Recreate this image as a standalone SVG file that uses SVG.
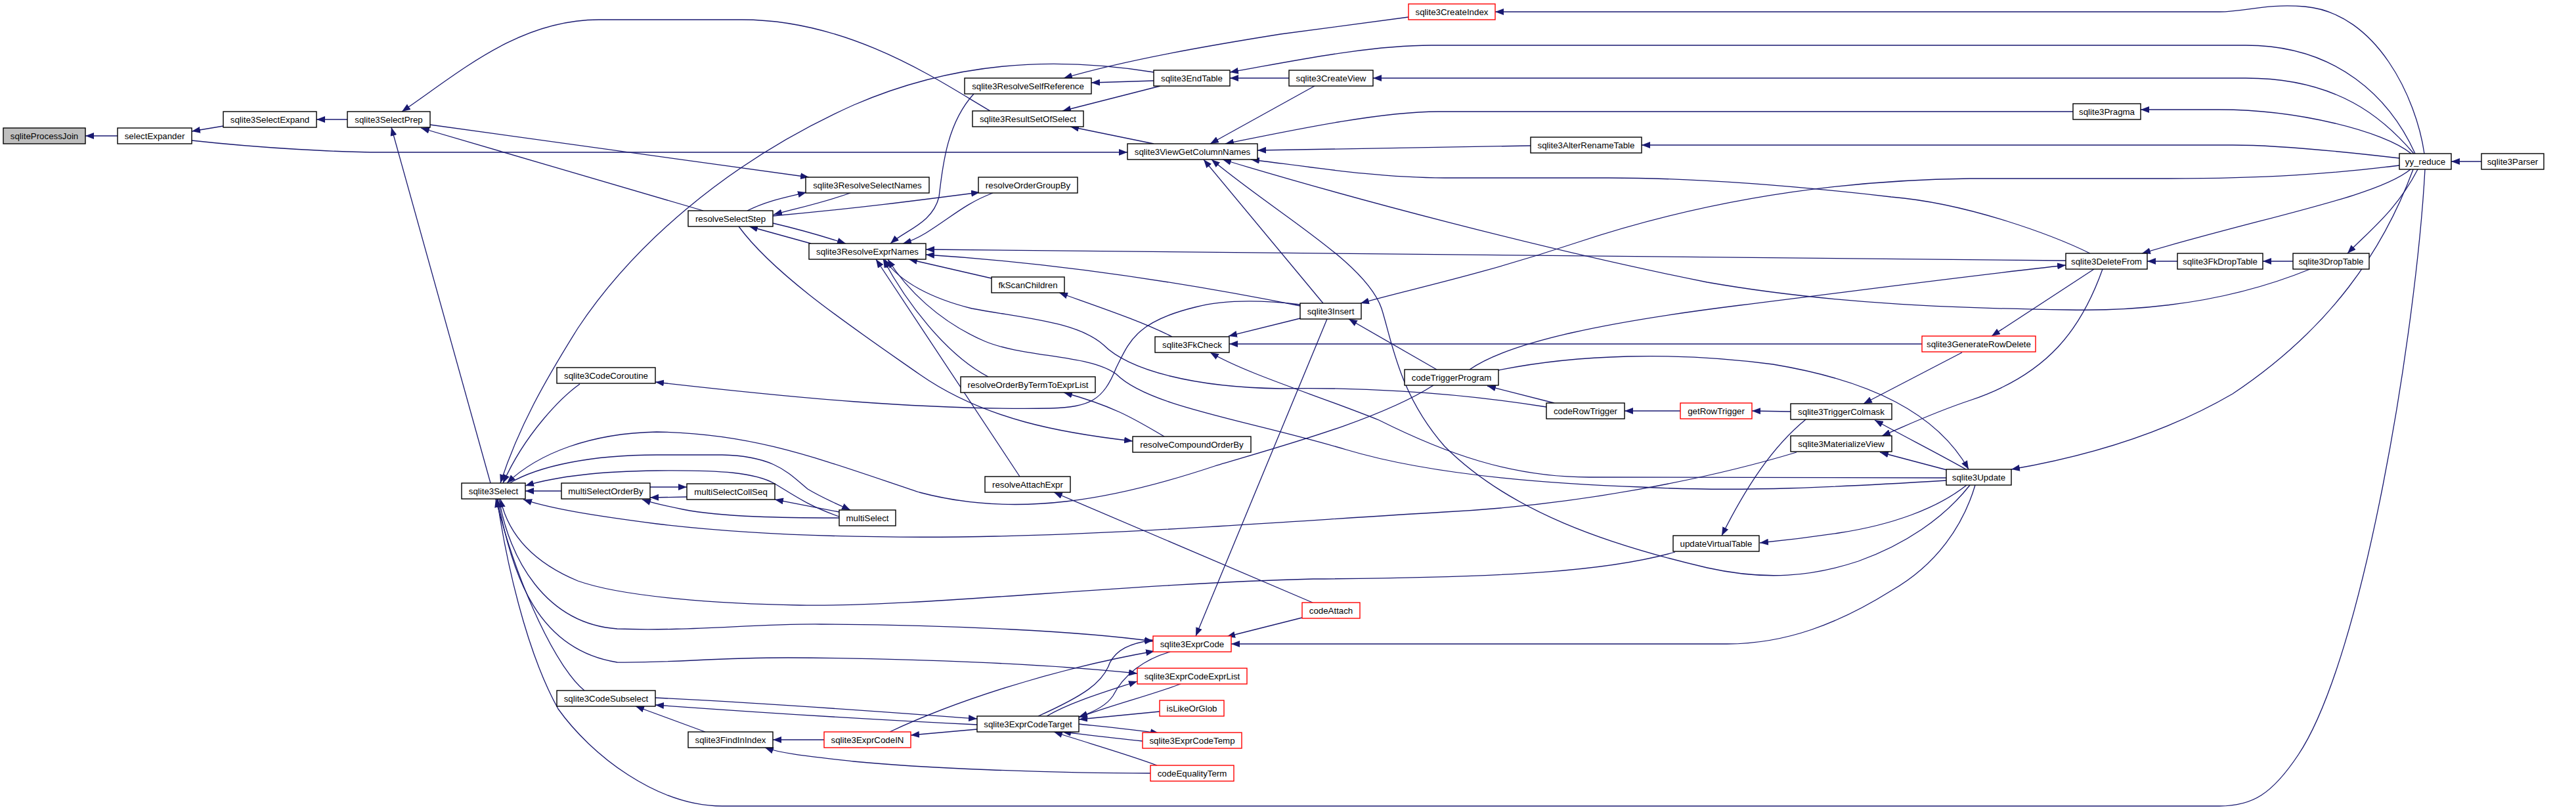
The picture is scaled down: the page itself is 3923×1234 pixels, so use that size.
<svg xmlns="http://www.w3.org/2000/svg" width="3923" height="1234" viewBox="0 0 3923 1234">
<style>
.n rect{fill:#fff;stroke:#000;stroke-width:1.4}
.n.r rect{stroke:#ff0000}
.n.g rect{fill:#bfbfbf}
.n text{font-family:"Liberation Sans",Arial,Helvetica,sans-serif;font-size:13.3px;text-anchor:middle;fill:#000}
#edges path{fill:none;stroke:#191970;stroke-width:1.3;marker-end:url(#a)}
</style>
<defs>
<marker id="a" markerUnits="userSpaceOnUse" markerWidth="14" markerHeight="10" refX="13" refY="5" orient="auto"><path d="M0,0 L13,5 L0,10 z" fill="#191970"/></marker>
</defs>
<rect width="3923" height="1234" fill="#fff"/>
<g id="edges">
<path d="M179,207 L130,207"/>
<path d="M340,192 L292,200"/>
<path d="M529,182 L482,182"/>
<path d="M292,214 C400,226 520,232 580,232 L1717,232"/>
<path d="M1508,169 C1440,130 1300,30 1130,30 L912,30 C790,30 700,110 612,170"/>
<path d="M655,190 L1232,270"/>
<path d="M1071,321 L641,195"/>
<path d="M747,736 L596,194"/>
<path d="M1757,110 C1600,85 1450,95 1300,160 C1100,250 960,380 880,500 C830,580 790,650 762,736"/>
<path d="M883,585 C855,605 800,660 766,736"/>
<path d="M1980,464 C1930,458 1870,455 1820,468 C1730,490 1720,520 1700,560 C1680,610 1660,620 1600,622 C1400,625 1200,605 998,582"/>
<path d="M2145,26 L1950,52 C1850,68 1720,90 1620,119"/>
<path d="M3692,234 C3680,150 3620,20 3510,10 C3450,5 3420,18 3380,18 L2277,18"/>
<path d="M3678,234 C3640,150 3560,69 3420,69 L2180,69 C2080,69 1960,95 1873,110"/>
<path d="M1963,119 L1873,119"/>
<path d="M3676,234 C3630,180 3560,119 3420,119 L2091,119"/>
<path d="M2002,131 L1843,219"/>
<path d="M3157,170 L2190,170 C2100,170 1960,200 1866,219"/>
<path d="M3672,234 C3630,200 3500,167 3380,167 L3260,167"/>
<path d="M1757,123 L1662,126"/>
<path d="M1767,131 L1618,169"/>
<path d="M1757,219 L1630,193"/>
<path d="M2331,222 L1915,229"/>
<path d="M3654,241 C3560,230 3470,221 3400,221 L2500,221"/>
<path d="M3183,386 C3130,360 3000,310 2880,300 C2750,285 2600,271 2450,271 L2200,271 C2100,271 2000,255 1905,243"/>
<path d="M3518,410 C3420,450 3300,475 3150,472 C3000,470 2800,465 2600,430 C2350,380 2050,300 1862,243"/>
<path d="M3000,739 C2960,790 2900,830 2830,855 C2760,878 2690,885 2600,865 C2450,830 2300,780 2200,680 C2130,600 2120,520 2104,470 C2080,400 1950,330 1845,243"/>
<path d="M2015,462 L1833,243"/>
<path d="M1980,466 C1800,430 1600,400 1410,388"/>
<path d="M3654,252 C3550,265 3450,272 3300,272 L3000,272 C2750,275 2550,320 2400,370 C2250,420 2150,440 2072,462"/>
<path d="M3779,246 L3733,246"/>
<path d="M3671,258 C3620,300 3450,330 3262,386"/>
<path d="M3682,258 C3650,320 3610,350 3575,386"/>
<path d="M3316,398 L3270,398"/>
<path d="M3492,398 L3446,398"/>
<path d="M3675,258 C3630,380 3550,500 3400,600 C3280,670 3150,700 3063,715"/>
<path d="M3693,258 C3680,500 3600,1000 3500,1150 C3460,1210 3430,1228 3380,1228 L1100,1228 C1000,1228 900,1150 850,1080 C800,990 770,850 757,760"/>
<path d="M3146,397 C3000,393 2400,385 1410,380"/>
<path d="M2238,563 C2300,520 2450,490 2650,465 C2850,440 3000,420 3146,404"/>
<path d="M3189,410 L3033,512"/>
<path d="M3202,410 C3170,500 3120,570 3000,610 C2940,630 2900,650 2866,664"/>
<path d="M2927,524 L1872,524"/>
<path d="M2988,537 L2838,615"/>
<path d="M1980,485 L1871,512"/>
<path d="M2964,728 L2420,727 C2300,727 2200,690 2100,640 C2000,600 1900,570 1843,537"/>
<path d="M1785,513 C1740,490 1680,470 1613,446"/>
<path d="M1510,424 L1384,395"/>
<path d="M1125,345 C1180,420 1300,500 1400,570 C1500,640 1620,660 1725,672"/>
<path d="M1773,665 C1730,640 1700,620 1620,598"/>
<path d="M1505,574 C1440,540 1380,460 1345,395"/>
<path d="M1553,726 L1334,395"/>
<path d="M1999,918 L1605,750"/>
<path d="M1983,941 L1868,970"/>
<path d="M2355,620 C2200,595 2050,590 1950,592 C1820,590 1720,565 1680,525 C1640,490 1560,485 1480,470 C1420,455 1370,430 1347,395"/>
<path d="M2964,732 C2800,742 2650,750 2500,742 C2300,735 2150,715 2050,685 C1900,640 1750,620 1700,570 C1660,540 1560,545 1500,520 C1430,490 1380,440 1352,395"/>
<path d="M1483,143 C1440,190 1435,260 1430,300 C1420,340 1380,350 1356,371"/>
<path d="M1512,294 C1470,310 1450,330 1410,355 C1395,364 1385,368 1375,371"/>
<path d="M1177,329 C1300,318 1400,305 1492,293"/>
<path d="M1177,340 C1220,350 1260,362 1288,371"/>
<path d="M1235,371 L1141,345"/>
<path d="M1138,321 C1170,305 1200,300 1228,293"/>
<path d="M1295,294 C1250,310 1210,318 1178,327"/>
<path d="M776,736 C820,710 900,693 1000,693 L1100,693 C1180,695 1200,720 1230,745 C1255,760 1280,770 1295,777"/>
<path d="M1278,787 C1230,770 1210,755 1180,737 C1150,720 1100,716 1000,717 C900,718 840,728 800,740"/>
<path d="M2183,587 C2100,640 1950,680 1850,710 C1700,760 1550,790 1400,750 C1250,700 1150,660 1000,658 C900,660 820,690 772,736"/>
<path d="M855,748 L800,748"/>
<path d="M990,742 L1046,742"/>
<path d="M1046,757 L990,758"/>
<path d="M1278,780 L1180,761"/>
<path d="M1278,789 C1200,789 1100,788 1040,776 C1010,770 990,765 978,761"/>
<path d="M2736,689 C2600,730 2400,770 2200,780 C1950,795 1700,815 1460,818 C1250,820 1100,810 1000,798 C900,785 840,775 797,761"/>
<path d="M2551,841 C2450,870 2300,880 2000,882 C1700,890 1400,925 1218,922 C1100,920 950,910 880,885 C820,860 775,820 762,760"/>
<path d="M760,760 C775,850 830,950 940,958 C1050,962 1150,950 1250,951 C1450,952 1650,962 1756,977"/>
<path d="M758,760 C780,880 820,990 940,1009 C1030,1010 1080,1002 1200,1002 C1400,1003 1600,1012 1732,1026"/>
<path d="M890,1052 C850,1020 790,900 755,760"/>
<path d="M1488,1104 C1300,1095 1150,1085 998,1074"/>
<path d="M998,1063 C1200,1073 1350,1085 1488,1095"/>
<path d="M1074,1115 L968,1076"/>
<path d="M1255,1127 L1177,1127"/>
<path d="M1752,1178 C1600,1178 1400,1170 1300,1160 C1230,1152 1190,1148 1165,1139"/>
<path d="M1488,1111 L1387,1120"/>
<path d="M1355,1115 C1450,1070 1600,1020 1758,992"/>
<path d="M1581,1091 C1650,1060 1680,1040 1690,1010 C1700,990 1720,980 1756,975"/>
<path d="M1782,993 C1740,1005 1710,1030 1695,1060 C1685,1075 1665,1085 1643,1092"/>
<path d="M1594,1091 C1630,1070 1680,1055 1732,1038"/>
<path d="M1798,1042 C1750,1060 1690,1075 1643,1093"/>
<path d="M1766,1084 L1643,1096"/>
<path d="M1643,1103 C1690,1108 1730,1112 1765,1117"/>
<path d="M1740,1129 C1700,1125 1660,1120 1618,1115"/>
<path d="M1762,1166 C1720,1150 1650,1130 1605,1115"/>
<path d="M2021,486 L1821,969"/>
<path d="M3008,739 C2990,800 2950,860 2880,900 C2800,950 2720,981 2630,981 L1875,981"/>
<path d="M2995,739 C2950,775 2880,800 2800,812 C2760,818 2720,823 2680,827"/>
<path d="M2750,639 C2700,680 2660,740 2622,816"/>
<path d="M2994,715 C2950,690 2900,665 2855,640"/>
<path d="M2282,564 C2400,540 2550,535 2700,555 C2850,580 2950,630 2998,715"/>
<path d="M2965,716 L2863,689"/>
<path d="M2367,614 L2265,588"/>
<path d="M2559,626 L2474,626"/>
<path d="M2727,627 L2668,626"/>
<path d="M2188,563 L2054,486"/>
</g>
<g id="n_sqliteProcessJoin" class="n g"><rect x="5" y="195" width="125" height="24"/><text x="67.5" y="212">sqliteProcessJoin</text></g>
<g id="n_selectExpander" class="n"><rect x="179" y="195" width="113" height="24"/><text x="235.5" y="212">selectExpander</text></g>
<g id="n_sqlite3SelectExpand" class="n"><rect x="340" y="170" width="142" height="24"/><text x="411" y="187">sqlite3SelectExpand</text></g>
<g id="n_sqlite3SelectPrep" class="n"><rect x="529" y="170" width="126" height="24"/><text x="592" y="187">sqlite3SelectPrep</text></g>
<g id="n_sqlite3Select" class="n"><rect x="703" y="736" width="97" height="24"/><text x="751.5" y="753">sqlite3Select</text></g>
<g id="n_sqlite3CodeCoroutine" class="n"><rect x="848" y="560" width="150" height="24"/><text x="923" y="577">sqlite3CodeCoroutine</text></g>
<g id="n_multiSelectOrderBy" class="n"><rect x="855" y="736" width="135" height="24"/><text x="922.5" y="753">multiSelectOrderBy</text></g>
<g id="n_sqlite3CodeSubselect" class="n"><rect x="848" y="1052" width="150" height="24"/><text x="923" y="1069">sqlite3CodeSubselect</text></g>
<g id="n_sqlite3EndTable" class="n"><rect x="1757" y="107" width="116" height="24"/><text x="1815" y="124">sqlite3EndTable</text></g>
<g id="n_sqlite3ResolveSelfReference" class="n"><rect x="1469" y="119" width="193" height="24"/><text x="1565.5" y="136">sqlite3ResolveSelfReference</text></g>
<g id="n_sqlite3ResultSetOfSelect" class="n"><rect x="1481" y="169" width="169" height="24"/><text x="1565.5" y="186">sqlite3ResultSetOfSelect</text></g>
<g id="n_sqlite3ViewGetColumnNames" class="n"><rect x="1717" y="219" width="198" height="24"/><text x="1816" y="236">sqlite3ViewGetColumnNames</text></g>
<g id="n_sqlite3ResolveSelectNames" class="n"><rect x="1227" y="270" width="188" height="24"/><text x="1321" y="287">sqlite3ResolveSelectNames</text></g>
<g id="n_resolveOrderGroupBy" class="n"><rect x="1490" y="270" width="151" height="24"/><text x="1565.5" y="287">resolveOrderGroupBy</text></g>
<g id="n_resolveSelectStep" class="n"><rect x="1048" y="321" width="129" height="24"/><text x="1112.5" y="338">resolveSelectStep</text></g>
<g id="n_sqlite3ResolveExprNames" class="n"><rect x="1232" y="371" width="178" height="24"/><text x="1321" y="388">sqlite3ResolveExprNames</text></g>
<g id="n_fkScanChildren" class="n"><rect x="1510" y="422" width="111" height="24"/><text x="1565.5" y="439">fkScanChildren</text></g>
<g id="n_sqlite3FkCheck" class="n"><rect x="1759" y="513" width="113" height="24"/><text x="1815.5" y="530">sqlite3FkCheck</text></g>
<g id="n_resolveOrderByTermToExprList" class="n"><rect x="1463" y="574" width="205" height="24"/><text x="1565.5" y="591">resolveOrderByTermToExprList</text></g>
<g id="n_resolveCompoundOrderBy" class="n"><rect x="1725" y="665" width="180" height="24"/><text x="1815" y="682">resolveCompoundOrderBy</text></g>
<g id="n_resolveAttachExpr" class="n"><rect x="1500" y="726" width="130" height="24"/><text x="1565" y="743">resolveAttachExpr</text></g>
<g id="n_multiSelectCollSeq" class="n"><rect x="1046" y="737" width="134" height="24"/><text x="1113" y="754">multiSelectCollSeq</text></g>
<g id="n_multiSelect" class="n"><rect x="1278" y="777" width="86" height="24"/><text x="1321" y="794">multiSelect</text></g>
<g id="n_sqlite3ExprCode" class="n r"><rect x="1756" y="969" width="119" height="24"/><text x="1815.5" y="986">sqlite3ExprCode</text></g>
<g id="n_sqlite3ExprCodeExprList" class="n r"><rect x="1732" y="1018" width="167" height="24"/><text x="1815.5" y="1035">sqlite3ExprCodeExprList</text></g>
<g id="n_isLikeOrGlob" class="n r"><rect x="1766" y="1067" width="98" height="24"/><text x="1815" y="1084">isLikeOrGlob</text></g>
<g id="n_sqlite3ExprCodeTarget" class="n"><rect x="1488" y="1091" width="155" height="24"/><text x="1565.5" y="1108">sqlite3ExprCodeTarget</text></g>
<g id="n_sqlite3ExprCodeTemp" class="n r"><rect x="1740" y="1116" width="151" height="24"/><text x="1815.5" y="1133">sqlite3ExprCodeTemp</text></g>
<g id="n_codeEqualityTerm" class="n r"><rect x="1752" y="1166" width="127" height="24"/><text x="1815.5" y="1183">codeEqualityTerm</text></g>
<g id="n_sqlite3FindInIndex" class="n"><rect x="1048" y="1115" width="129" height="24"/><text x="1112.5" y="1132">sqlite3FindInIndex</text></g>
<g id="n_sqlite3ExprCodeIN" class="n r"><rect x="1255" y="1115" width="132" height="24"/><text x="1321" y="1132">sqlite3ExprCodeIN</text></g>
<g id="n_sqlite3CreateIndex" class="n r"><rect x="2145" y="6" width="132" height="24"/><text x="2211" y="23">sqlite3CreateIndex</text></g>
<g id="n_sqlite3CreateView" class="n"><rect x="1963" y="107" width="128" height="24"/><text x="2027" y="124">sqlite3CreateView</text></g>
<g id="n_sqlite3AlterRenameTable" class="n"><rect x="2331" y="209" width="169" height="24"/><text x="2415.5" y="226">sqlite3AlterRenameTable</text></g>
<g id="n_sqlite3Insert" class="n"><rect x="1980" y="462" width="93" height="24"/><text x="2026.5" y="479">sqlite3Insert</text></g>
<g id="n_codeTriggerProgram" class="n"><rect x="2139" y="563" width="143" height="24"/><text x="2210.5" y="580">codeTriggerProgram</text></g>
<g id="n_codeRowTrigger" class="n"><rect x="2355" y="614" width="119" height="24"/><text x="2414.5" y="631">codeRowTrigger</text></g>
<g id="n_getRowTrigger" class="n r"><rect x="2559" y="614" width="109" height="24"/><text x="2613.5" y="631">getRowTrigger</text></g>
<g id="n_sqlite3TriggerColmask" class="n"><rect x="2727" y="615" width="154" height="24"/><text x="2804" y="632">sqlite3TriggerColmask</text></g>
<g id="n_sqlite3MaterializeView" class="n"><rect x="2727" y="664" width="154" height="24"/><text x="2804" y="681">sqlite3MaterializeView</text></g>
<g id="n_updateVirtualTable" class="n"><rect x="2548" y="816" width="131" height="24"/><text x="2613.5" y="833">updateVirtualTable</text></g>
<g id="n_codeAttach" class="n r"><rect x="1983" y="918" width="88" height="24"/><text x="2027" y="935">codeAttach</text></g>
<g id="n_sqlite3Pragma" class="n"><rect x="3157" y="158" width="103" height="24"/><text x="3208.5" y="175">sqlite3Pragma</text></g>
<g id="n_yy_reduce" class="n"><rect x="3654" y="234" width="79" height="24"/><text x="3693.5" y="251">yy_reduce</text></g>
<g id="n_sqlite3Parser" class="n"><rect x="3779" y="234" width="95" height="24"/><text x="3826.5" y="251">sqlite3Parser</text></g>
<g id="n_sqlite3DeleteFrom" class="n"><rect x="3146" y="386" width="124" height="24"/><text x="3208" y="403">sqlite3DeleteFrom</text></g>
<g id="n_sqlite3FkDropTable" class="n"><rect x="3316" y="386" width="130" height="24"/><text x="3381" y="403">sqlite3FkDropTable</text></g>
<g id="n_sqlite3DropTable" class="n"><rect x="3492" y="386" width="116" height="24"/><text x="3550" y="403">sqlite3DropTable</text></g>
<g id="n_sqlite3GenerateRowDelete" class="n r"><rect x="2927" y="512" width="173" height="24"/><text x="3013.5" y="529">sqlite3GenerateRowDelete</text></g>
<g id="n_sqlite3Update" class="n"><rect x="2964" y="715" width="99" height="24"/><text x="3013.5" y="732">sqlite3Update</text></g>
</svg>
